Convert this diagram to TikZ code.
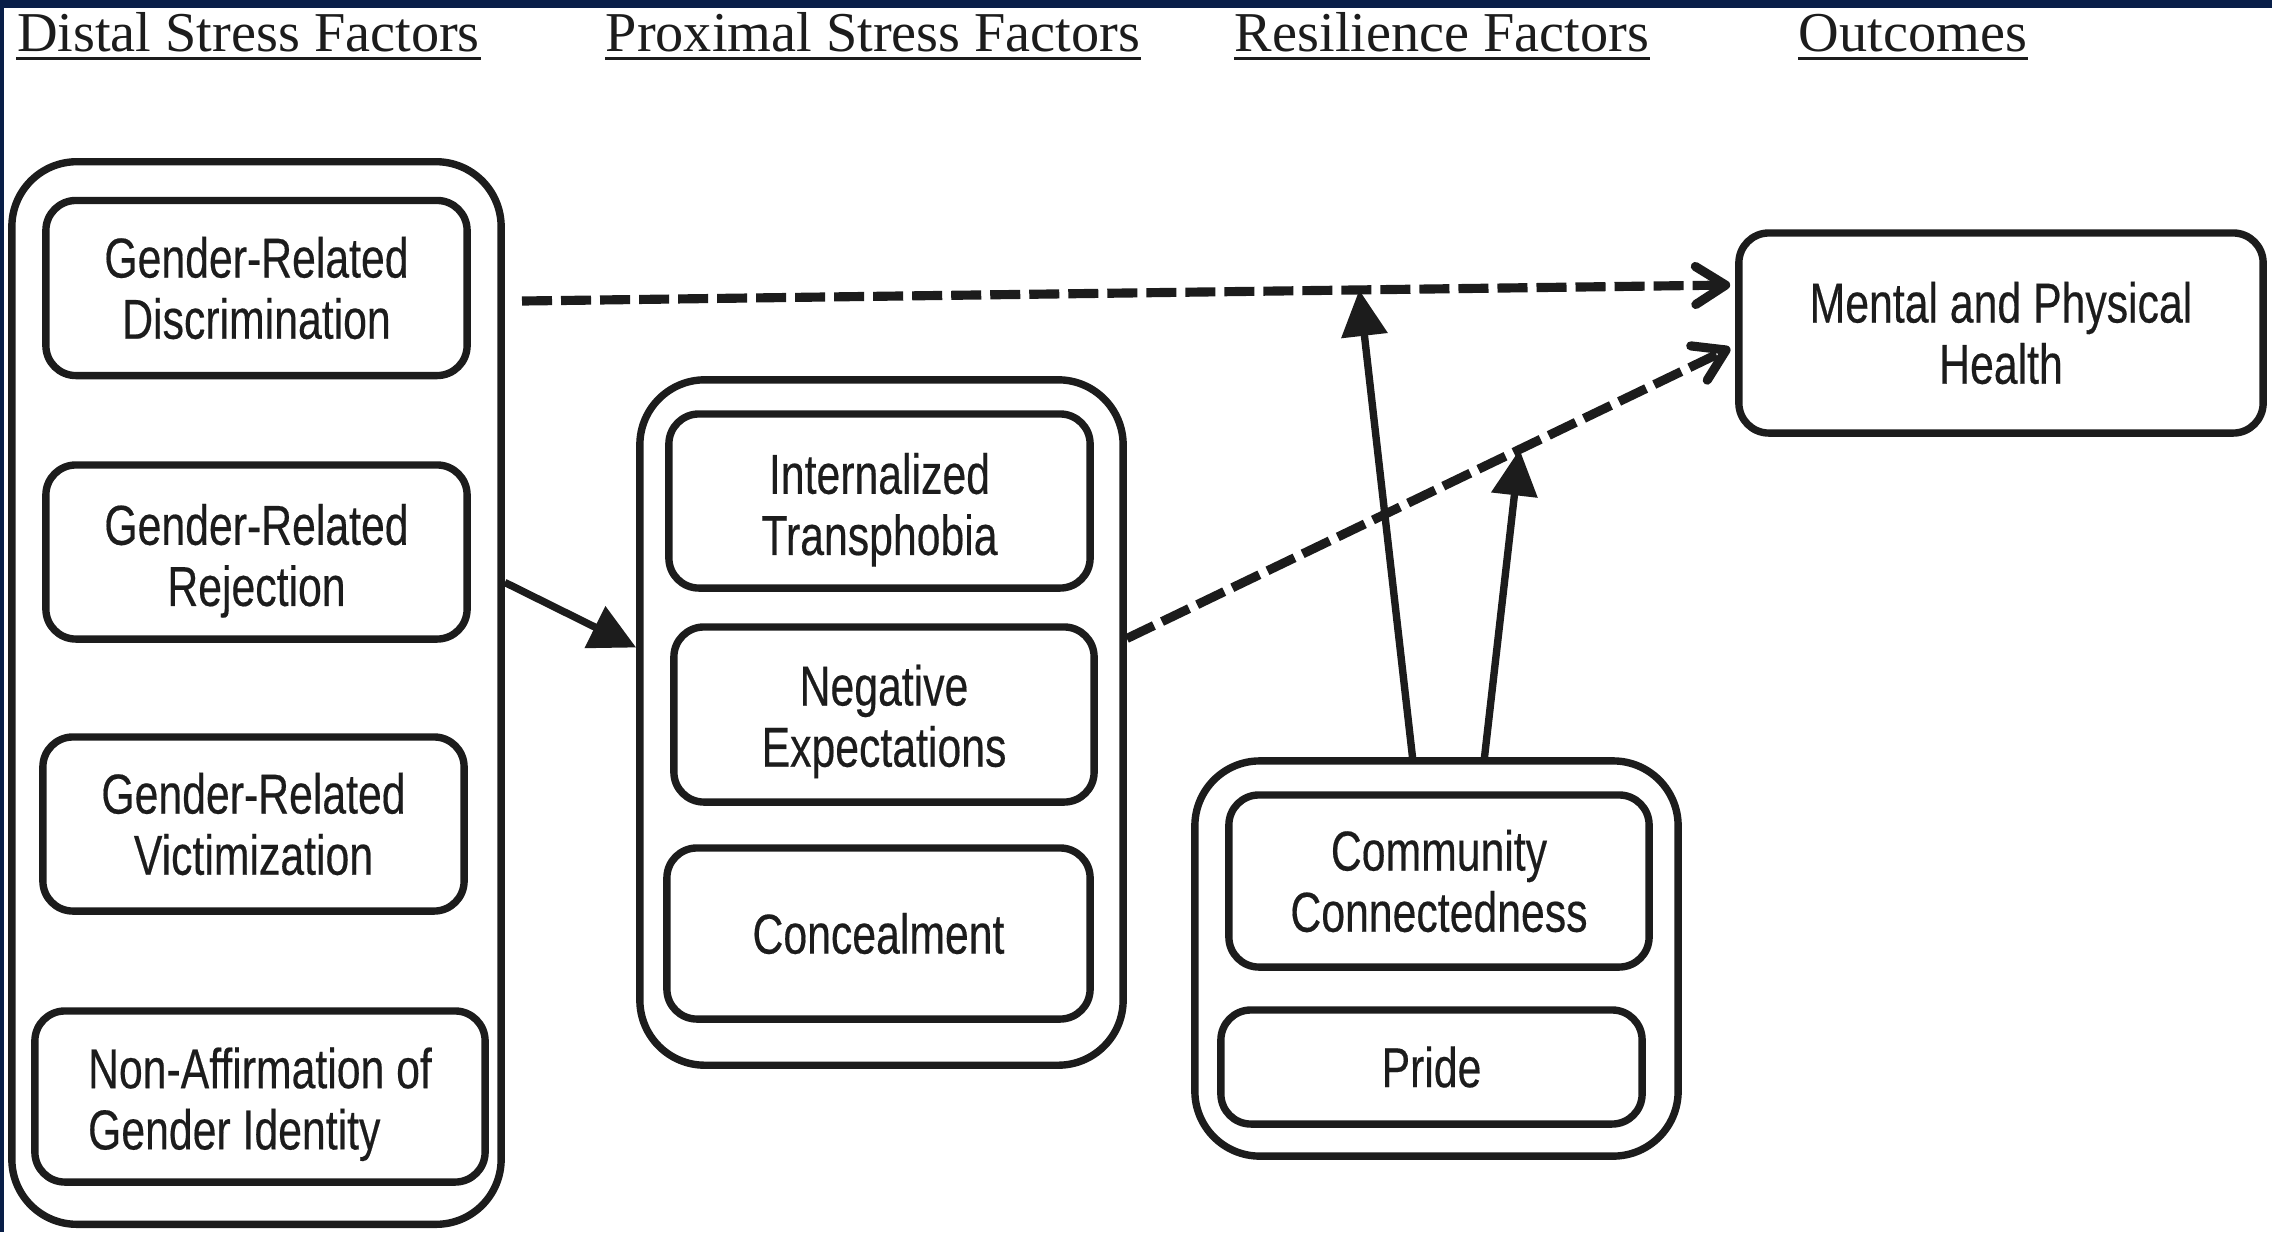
\documentclass[tikz,border=0pt]{standalone}
\usepackage{fontspec}
\setmainfont{Liberation Sans}[FakeStretch=0.76,FakeBold=0.3]
\newfontfamily\headfont{Liberation Serif}
\usetikzlibrary{arrows.meta,calc}
\definecolor{navy}{RGB}{8,30,72}
\definecolor{ink}{RGB}{28,28,28}

\begin{document}
\begin{tikzpicture}[x=0.01cm,y=-0.01cm,
  txt/.style={align=center,inner sep=0pt,text=ink,font=\fontsize{16}{17.4}\selectfont},
  box/.style={txt,draw=ink,line width=2.1pt,rounded corners=0.3cm},
  group/.style={draw=ink,line width=2.1pt,rounded corners=0.65cm,inner sep=0pt},
  head/.style={anchor=base,inner sep=0pt,text=ink,font=\headfont\fontsize{16}{18}\selectfont},
  dasharrow/.style={draw=ink,line width=2.6pt,dash pattern=on 0.3cm off 0.09cm,
    -{Straight Barb[length=0.3cm,width=0.38cm,round]}},
  solidarrow/.style={draw=ink,line width=2.1pt,-{Triangle[length=0.46cm,width=0.45cm]}}]
\fill[white] (0,0) rectangle (2272,1232);
\fill[navy] (0,0) rectangle (2272,8);
\fill[navy] (0,0) rectangle (4,1232);
\useasboundingbox (0,0) rectangle (2272,1232);
% column heads
\node[head] (dh) at (248.5,51) {Distal Stress Factors};
\node[head] (ph) at (873,51) {Proximal Stress Factors};
\node[head] (rh) at (1442,51) {Resilience Factors};
\node[head] (oh) at (1913,51) {Outcomes};
\foreach \n in {dh,ph,rh,oh}
  \draw[ink,line width=0.9pt] ([yshift=-2.2pt]\n.base west) -- ([yshift=-2.2pt]\n.base east);
% distal
\node[group,minimum width=4.89cm,minimum height=10.62cm] (distal) at (256.5,693) {};
\node[box,minimum width=4.21cm,minimum height=1.75cm] (disc) at (256.5,288) {Gender-Related\\Discrimination};
\node[box,minimum width=4.21cm,minimum height=1.74cm,
  label={[txt,yshift=-2.5pt]center:{Gender-Related\\Rejection}}] (rej) at (256.5,552) {};
\node[box,minimum width=4.21cm,minimum height=1.74cm] (vict) at (253.5,824) {Gender-Related\\Victimization};
\node[box,minimum width=4.5cm,minimum height=1.71cm,
  label={[txt,align=left,yshift=-2.2pt]center:{Non-Affirmation of\\Gender Identity}}] (nonaff) at (260,1096.5) {};
% proximal
\node[group,minimum width=4.83cm,minimum height=6.85cm] (prox) at (881.5,722.5) {};
\node[box,minimum width=4.21cm,minimum height=1.74cm,
  label={[txt,yshift=-2.5pt]center:{Internalized\\Transphobia}}] (intern) at (879.5,501) {};
\node[box,minimum width=4.2cm,minimum height=1.75cm,
  label={[txt,yshift=-2pt]center:{Negative\\Expectations}}] (negexp) at (884,714.5) {};
\node[box,minimum width=4.23cm,minimum height=1.71cm] (conceal) at (878.5,933.5) {Concealment};
% resilience
\node[group,minimum width=4.83cm,minimum height=3.95cm] (res) at (1436.5,958.5) {};
\node[box,minimum width=4.2cm,minimum height=1.72cm] (comm) at (1439,881) {Community\\Connectedness};
\node[box,minimum width=4.21cm,minimum height=1.14cm] (pride) at (1431.5,1067) {Pride};
% outcome
\node[box,minimum width=5.24cm,minimum height=2cm] (health) at (2001,333) {Mental and Physical\\Health};
\coordinate (d1) at (522,301);
\draw[dasharrow] (d1) -- coordinate[pos=0.693] (m1) ($(health.west)+(-5,-48)$);
\draw[dasharrow] ($(prox.east)+(0,-84)$) -- coordinate[pos=0.651] (m2) ($(health.west)+(-5,15)$);
\draw[solidarrow] (distal.24) -- (prox.163);
\draw[solidarrow] ($(res.north)+(-24,0)$) -- (m1);
\draw[solidarrow] ($(res.north)+(48,0)$) -- (m2);
\end{tikzpicture}
\end{document}
